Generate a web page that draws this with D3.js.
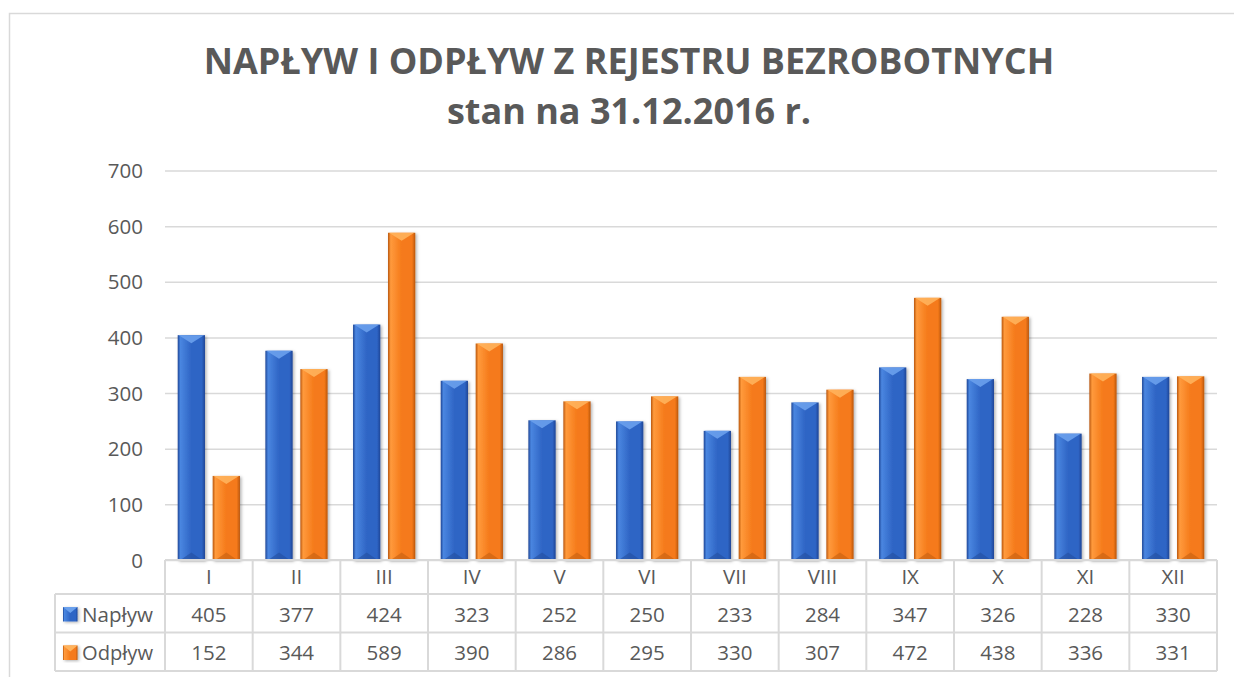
<!DOCTYPE html>
<html>
<head>
<meta charset="utf-8">
<script src="https://cdn.jsdelivr.net/npm/d3@7"></script>
<style>
  body { margin: 0; background: #fff; }
  svg { display: block; font-family: "Open Sans", "DejaVu Sans", sans-serif; }
</style>
</head>
<body>
<svg id="chart" width="1234" height="677"></svg>
<script>
const months = ['I', 'II', 'III', 'IV', 'V', 'VI', 'VII', 'VIII', 'IX', 'X', 'XI', 'XII'];
const seriesNames = ['Napływ', 'Odpływ'];
const naplyw = [405, 377, 424, 323, 252, 250, 233, 284, 347, 326, 228, 330];
const odplyw = [152, 344, 589, 390, 286, 295, 330, 307, 472, 438, 336, 331];
const yTicks = [0, 100, 200, 300, 400, 500, 600, 700];
const titleLines = ['NAPŁYW I ODPŁYW Z REJESTRU BEZROBOTNYCH', 'stan na 31.12.2016 r.'];

const seriesValues = [naplyw, odplyw];
const palette = {
  'Napływ': { light: '#4a86e0', mid: '#2f65c5', dark: '#1d4596', top: '#6aa0ec', bottom: '#234f9e' },
  'Odpływ': { light: '#ff9a3c', mid: '#f57a1a', dark: '#b9560c', top: '#ffb35c', bottom: '#c45f10' }
};

const textColor = '#595959';
const lineColor = '#d9d9d9';
const fontSize = 20.5;

const plot = { left: 165, right: 1217, top: 171, bottom: 560.5 };

const svg = d3.select('#chart');
const defs = svg.append('defs');

seriesNames.forEach((name, i) => {
  const c = palette[name];
  const g = defs.append('linearGradient')
    .attr('id', 'grad' + i)
    .attr('x1', 0).attr('x2', 1).attr('y1', 0).attr('y2', 0);
  g.append('stop').attr('offset', '0%').attr('stop-color', c.dark);
  g.append('stop').attr('offset', '10%').attr('stop-color', c.light);
  g.append('stop').attr('offset', '50%').attr('stop-color', c.mid);
  g.append('stop').attr('offset', '88%').attr('stop-color', c.mid);
  g.append('stop').attr('offset', '100%').attr('stop-color', c.dark);
});

const shadow = defs.append('filter').attr('id', 'shadow')
  .attr('x', '-30%').attr('y', '-10%').attr('width', '160%').attr('height', '130%');
shadow.append('feDropShadow')
  .attr('dx', 1.5).attr('dy', 1).attr('stdDeviation', 1.5)
  .attr('flood-color', '#000').attr('flood-opacity', 0.3);

// outer chart border
svg.append('rect')
  .attr('x', 9.5).attr('y', 13.5)
  .attr('width', 1240).attr('height', 700)
  .attr('fill', 'none')
  .attr('stroke', lineColor)
  .attr('stroke-width', 1.5);

// title
titleLines.forEach((t, i) => {
  svg.append('text')
    .attr('x', 629)
    .attr('y', 74 + i * 50)
    .attr('text-anchor', 'middle')
    .attr('fill', textColor)
    .attr('font-size', 36)
    .attr('font-weight', 'bold')
    .text(t);
});

const x0 = d3.scaleBand()
  .domain(months)
  .range([plot.left, plot.right])
  .paddingInner(0.29)
  .paddingOuter(0.145);

const x1 = d3.scaleBand()
  .domain(seriesNames)
  .range([0, x0.bandwidth()])
  .paddingInner(0.22);

const y = d3.scaleLinear()
  .domain([0, 700])
  .range([plot.bottom, plot.top]);

// gridlines
svg.append('g')
  .selectAll('line')
  .data(yTicks)
  .join('line')
  .attr('x1', plot.left).attr('x2', plot.right)
  .attr('y1', d => y(d)).attr('y2', d => y(d))
  .attr('stroke', lineColor)
  .attr('stroke-width', 1.5);

// y axis labels
const yAxis = d3.axisLeft(y).tickValues(yTicks).tickSize(0).tickPadding(0);
svg.append('g')
  .attr('transform', 'translate(143,0)')
  .call(yAxis)
  .call(g => g.select('.domain').remove())
  .call(g => g.selectAll('text')
    .attr('fill', textColor)
    .attr('font-size', fontSize)
    .attr('font-family', '"Open Sans", sans-serif'));

function drawBevelBar(sel, i) {
  const c = palette[seriesNames[i]];
  sel.each(function(d) {
    const g = d3.select(this);
    const bx = d.x, by = d.y, bw = d.w, bh = d.h;
    const tb = Math.min(8, bh / 2);
    g.append('rect')
      .attr('x', bx).attr('y', by).attr('width', bw).attr('height', bh)
      .attr('fill', `url(#grad${i})`)
      .attr('filter', 'url(#shadow)');
    g.append('polygon')
      .attr('points', [[bx + 1, by], [bx + bw - 1, by], [bx + bw / 2, by + tb]].join(' '))
      .attr('fill', c.top)
      .attr('opacity', 0.9);
    g.append('polygon')
      .attr('points', [[bx + 2, by + bh], [bx + bw - 2, by + bh], [bx + bw / 2, by + bh - tb]].join(' '))
      .attr('fill', c.bottom)
      .attr('opacity', 0.6);
  });
}

// bars
seriesNames.forEach((name, i) => {
  const data = months.map((m, j) => {
    const v = seriesValues[i][j];
    return {
      x: x0(m) + x1(name),
      y: y(v),
      w: x1.bandwidth(),
      h: y(0) - y(v)
    };
  });
  svg.append('g')
    .selectAll('g')
    .data(data)
    .join('g')
    .call(drawBevelBar, i);
});

// data table
const rowY = [560, 594, 632.5, 671];
const tableLeft = 55;
const table = svg.append('g');

// horizontal lines
table.append('line')
  .attr('x1', plot.left).attr('x2', plot.right)
  .attr('y1', rowY[0]).attr('y2', rowY[0]);
[1, 2, 3].forEach(r => {
  table.append('line')
    .attr('x1', tableLeft).attr('x2', plot.right)
    .attr('y1', rowY[r]).attr('y2', rowY[r]);
});
// vertical lines
const colEdges = months.map(m => x0(m) - x0.step() * x0.paddingOuter()).concat([plot.right]);
colEdges.forEach(xe => {
  table.append('line')
    .attr('x1', xe).attr('x2', xe)
    .attr('y1', rowY[0]).attr('y2', rowY[3]);
});
table.append('line')
  .attr('x1', tableLeft).attr('x2', tableLeft)
  .attr('y1', rowY[1]).attr('y2', rowY[3]);
table.selectAll('line')
  .attr('stroke', lineColor)
  .attr('stroke-width', 2);

// header labels
table.append('g')
  .selectAll('text')
  .data(months)
  .join('text')
  .attr('x', d => x0(d) + x0.bandwidth() / 2)
  .attr('y', 584)
  .attr('text-anchor', 'middle')
  .attr('fill', textColor)
  .attr('font-size', fontSize)
  .text(d => d);

// value rows
seriesNames.forEach((name, i) => {
  const baseY = i === 0 ? 622 : 660;
  table.append('g')
    .selectAll('text')
    .data(seriesValues[i])
    .join('text')
    .attr('x', (d, j) => x0(months[j]) + x0.bandwidth() / 2)
    .attr('y', baseY)
    .attr('text-anchor', 'middle')
    .attr('fill', textColor)
    .attr('font-size', fontSize)
    .text(d => d);

  // legend key
  const ky = i === 0 ? 607 : 645.5;
  const key = table.append('g');
  key.datum({ x: 63, y: ky, w: 14.5, h: 14.5 }).call(drawBevelBar, i);
  key.selectAll('polygon').remove();
  const c = palette[name];
  key.append('polygon')
    .attr('points', [[63, ky], [77.5, ky], [70.25, ky + 6]].join(' '))
    .attr('fill', c.top);

  table.append('text')
    .attr('x', 82)
    .attr('y', baseY)
    .attr('fill', textColor)
    .attr('font-size', fontSize)
    .attr('textLength', 71)
    .attr('lengthAdjust', 'spacingAndGlyphs')
    .text(name);
});
</script>
</body>
</html>
